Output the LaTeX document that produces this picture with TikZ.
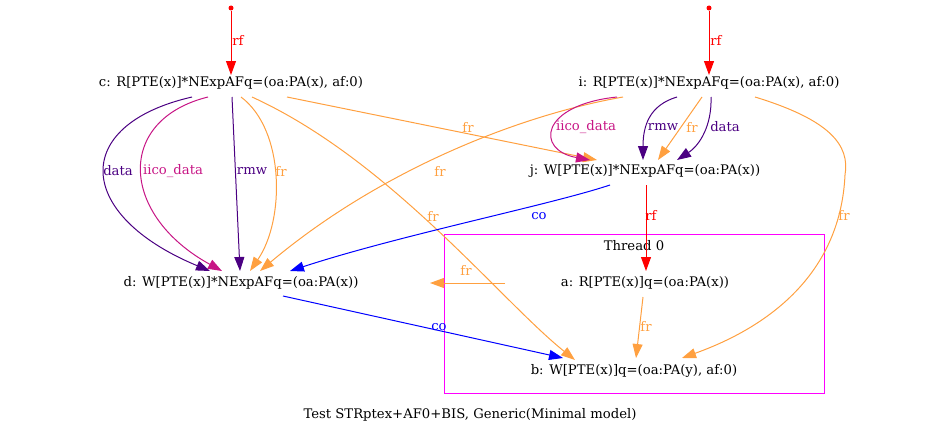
\documentclass[tikz,border=0pt]{standalone}
\usepackage{fontspec}
\setmainfont{DejaVu Serif}
\usetikzlibrary{arrows.meta,calc}
\definecolor{frcol}{RGB}{255,160,64}
\definecolor{datacol}{RGB}{75,0,130}
\definecolor{iicocol}{RGB}{199,21,133}
\definecolor{thrcol}{RGB}{255,0,255}

\begin{document}
\begin{tikzpicture}[x=1pt, y=-1pt,
  ev/.style={inner sep=0pt, font=\fontsize{13.2}{15}\selectfont},
  lbl/.style={inner sep=0pt, font=\fontsize{13.2}{15}\selectfont},
  arr/.style={-{Triangle[length=14pt,width=10pt]}, line width=1pt},
  fr/.style={arr, frcol},
  dep/.style={arr, datacol},
  iico/.style={arr, iicocol},
  rf/.style={arr, red},
  co/.style={arr, blue},
  initdot/.style={circle, fill=red, inner sep=0pt, minimum size=5pt}]
\useasboundingbox (0,0) rectangle (941,436);
% thread box
\node[draw=thrcol, line width=1pt, minimum width=380pt, minimum height=159pt] (thr) at (634,313.5) {};
\node[ev] (thrlbl) at (634,246) {Thread 0};
% events
\node[ev] (c) at (231,83) {c: R[PTE(x)]*NExpAFq=(oa:PA(x), af:0)};
\node[ev] (i) at (709,83) {i: R[PTE(x)]*NExpAFq=(oa:PA(x), af:0)};
\node[ev] (j) at (645,171) {j: W[PTE(x)]*NExpAFq=(oa:PA(x))};
\node[ev] (d) at (241,283) {d: W[PTE(x)]*NExpAFq=(oa:PA(x))};
\node[ev] (a) at (645,283) {a: R[PTE(x)]q=(oa:PA(x))};
\node[ev] (b) at (634,371) {b: W[PTE(x)]q=(oa:PA(y), af:0)};
\node[initdot] (c0) at (231,8) {};
\node[initdot] (i0) at (709,8) {};
\coordinate (afrend) at (430,283);
% rf from init
\draw[rf] (c0) -- ($(c)+(0,-8)$) node[lbl] at (238,40) {rf};
\draw[rf] (i0) -- ($(i)+(0,-8)$) node[lbl] at (716,40) {rf};
% c -> d
\draw[dep] ($(c)+(-39,14)$) .. controls (70,125) and (75,215) .. ($(d)+(-31,-12)$) node[lbl] at (118,171) {data};
\draw[iico] ($(c)+(-23,14)$) .. controls (115,120) and (120,215) .. ($(d)+(-19,-12)$) node[lbl] at (173,171) {iico\_data};
\draw[dep] ($(c)+(1,14)$) -- ($(d)+(-1,-12)$) node[lbl] at (252,171) {rmw};
\draw[fr] ($(c)+(10,14)$) .. controls (285,130) and (285,220) .. ($(d)+(9,-12)$) node[lbl] at (281,171) {fr};
% c -> j, c -> b
\draw[fr] ($(c)+(56,14)$) -- ($(j)+(-48,-11)$) node[lbl] at (468,127) {fr};
\draw[fr] ($(c)+(21,14)$) .. controls (390,160) and (500,300) .. ($(b)+(-59,-11)$) node[lbl] at (433,216) {fr};
% i -> d
\draw[fr] ($(i)+(-86,14)$) .. controls (520,115) and (380,170) .. ($(d)+(19,-12)$) node[lbl] at (440,171) {fr};
% i -> j
\draw[iico] ($(i)+(-92,14)$) .. controls (540,105) and (535,150) .. ($(j)+(-55,-11)$) node[lbl] at (586,127) {iico\_data};
\draw[dep] ($(i)+(-32,14)$) .. controls (650,105) and (643,125) .. ($(j)+(-2,-11)$) node[lbl] at (663,127) {rmw};
\draw[fr] ($(i)+(-7,14)$) -- ($(j)+(13,-11)$) node[lbl] at (692,127) {fr};
\draw[dep] ($(i)+(2,14)$) .. controls (712,125) and (700,145) .. ($(j)+(32,-11)$) node[lbl] at (725,127) {data};
% i -> b
\draw[fr] ($(i)+(46,14)$) .. controls (830,120) and (850,145) .. (845,175)
  .. controls (840,280) and (760,330) .. ($(b)+(48,-13)$) node[lbl] at (844,215) {fr};
% j -> d, j -> a
\draw[co] ($(j)+(-35,14)$) .. controls (550,205) and (400,235) .. ($(d)+(49,-12)$) node[lbl] at (539,216) {co};
\draw[rf] ($(j)+(1,14)$) -- ($(a)+(1,-12)$) node[lbl] at (651,215) {rf};
% a -> d, a -> b
\draw[fr] ($(a)+(-140,0)$) -- (afrend) node[lbl] at (466,270) {fr};
\draw[fr] ($(a)+(-2,14)$) -- ($(b)+(2,-13)$) node[lbl] at (646,326) {fr};
% d -> b
\draw[co] ($(d)+(42,13)$) -- ($(b)+(-71,-13)$) node[lbl] at (439,327) {co};
% caption
\node[ev] (caption) at (470,415) {Test STRptex+AF0+BIS, Generic(Minimal model)};
\end{tikzpicture}
\end{document}
